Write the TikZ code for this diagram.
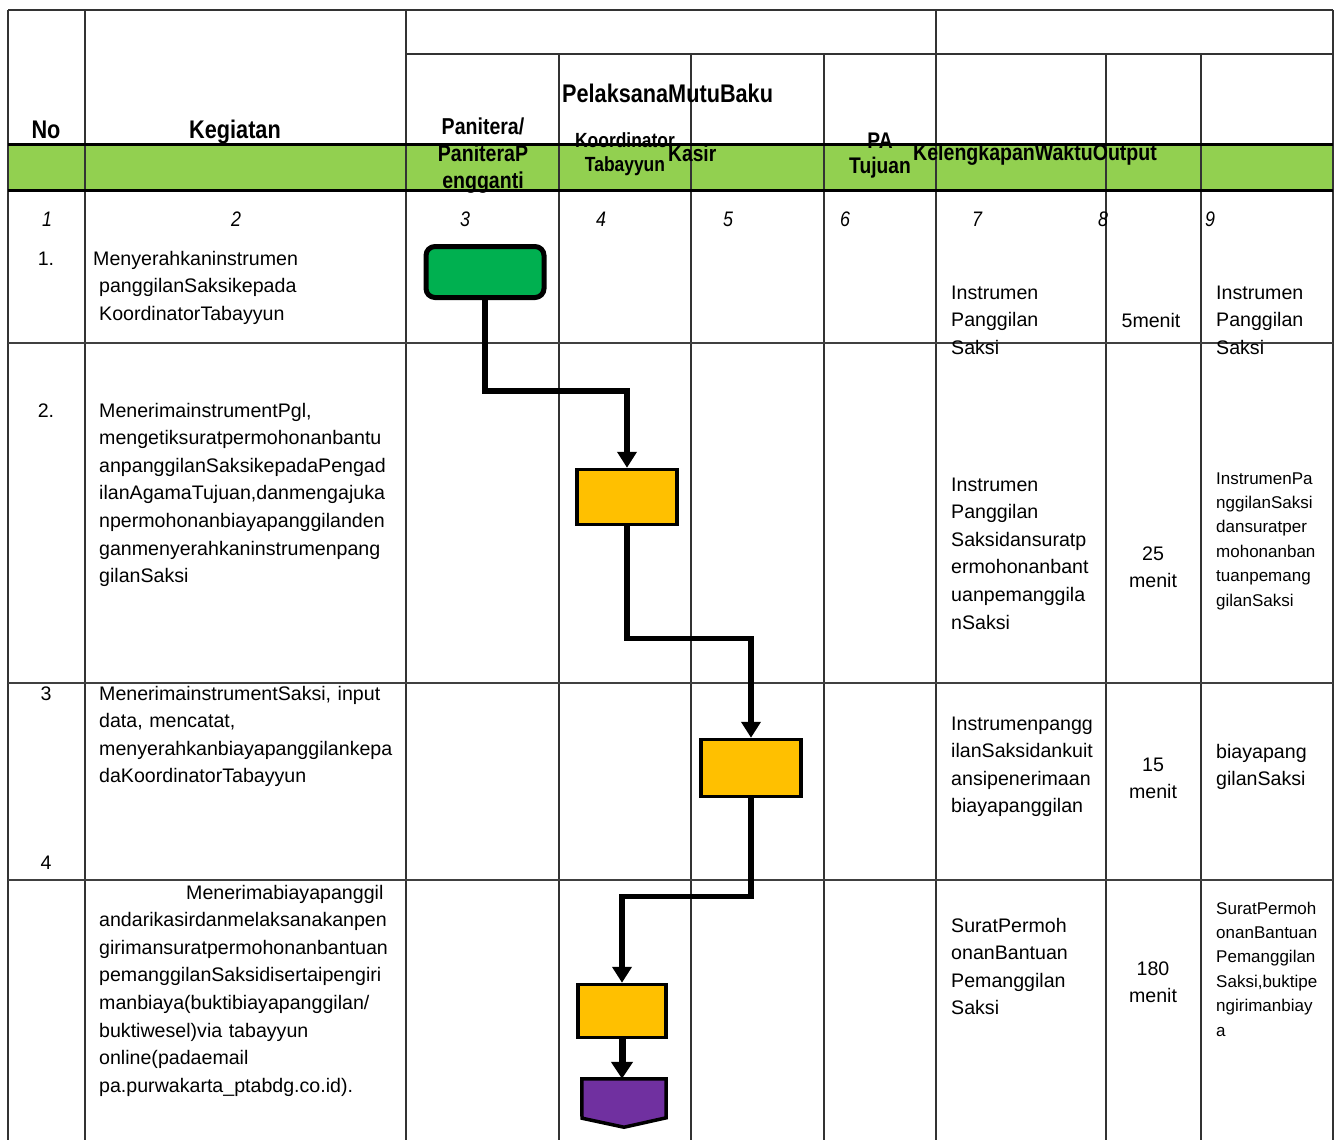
\documentclass[tikz,border=0pt]{standalone}
\usepackage{fontspec}
\setmainfont{Liberation Sans}
\newfontfamily\hdfont[FakeStretch=0.85]{Liberation Sans}
\usetikzlibrary{arrows.meta}
\definecolor{bandgreen}{HTML}{92D050}
\definecolor{startgreen}{HTML}{00B050}
\definecolor{actyellow}{HTML}{FFC000}
\definecolor{endpurple}{HTML}{7030A0}

\begin{document}
\begin{tikzpicture}[x=1pt,y=-1pt,
	grid/.style={black!80,line width=1.3pt},
	rowline/.style={black!75,line width=2pt},
	cell/.style={anchor=base west,align=left,text width=330pt,font=\fontsize{19.6}{27.6}\selectfont},
	smallcell/.style={cell,font=\fontsize{17}{24.4}\selectfont},
	timecell/.style={anchor=base,align=center,text width=90pt,font=\fontsize{19.6}{27.6}\selectfont},
	head/.style={font=\hdfont\bfseries\fontsize{25.5}{27}\selectfont},
	colnum/.style={anchor=base,font=\hdfont\itshape\fontsize{21}{24}\selectfont},
	startbox/.style={draw,line width=5pt,rounded corners=9pt,fill=startgreen,minimum width=118pt,minimum height=51pt},
	actbox/.style={draw,line width=3.5pt,fill=actyellow},
	flow/.style={line width=5.5pt,-{Triangle[width=19pt,length=16pt]}}]
	\tikzstyle{every node}+=[inner sep=0pt]
	\useasboundingbox (0,0) rectangle (1337,1140);
	% header band and table lines
	\fill [bandgreen] (8,144) rectangle (1333,190);
	\foreach \x in {8,85,406,936,1333}
		\draw [grid] (\x,10) -- (\x,1140);
	\foreach \x in {559,691,824,1106,1201}
		\draw [grid] (\x,54) -- (\x,1140);
	\draw [grid] (8,10) -- (1333,10);
	\draw [grid] (406,54) -- (1333,54);
	\draw [black,line width=3pt] (8,144) -- (1333,144);
	\draw [black,line width=3pt] (8,190) -- (1333,190);
	\foreach \y in {343,683,880}
		\draw [rowline] (8,\y) -- (1333,\y);
	% header texts
	\node [head,anchor=base] (hNo) at (46,138) {No};
	\node [head,anchor=base] (hKeg) at (235,138) {Kegiatan};
	\node [head,anchor=base west] (hPel) at (562,102) {PelaksanaMutuBaku};
	\node [head,anchor=base,align=center,font=\hdfont\bfseries\fontsize{23}{27}\selectfont] (hPan) at (483,188) {Panitera/\\PaniteraP\\engganti};
	\node [head,anchor=base,align=center,font=\hdfont\bfseries\fontsize{20.5}{24}\selectfont] (hKoor) at (625,171) {Koordinator\\Tabayyun};
	\node [head,anchor=base west,font=\hdfont\bfseries\fontsize{22.6}{25}\selectfont] (hKasir) at (668,161) {Kasir};
	\node [head,anchor=base,align=center,font=\hdfont\bfseries\fontsize{22.6}{25}\selectfont] (hPA) at (880,173) {PA\\Tujuan};
	\node [head,anchor=base west,font=\hdfont\bfseries\fontsize{23}{25}\selectfont] (hKel) at (913,160) {KelengkapanWaktuOutput};
	\foreach \n/\x in {1/47,2/236,3/465,4/601,5/728,6/845,7/977,8/1103,9/1210}
		\node [colnum] (num\n) at (\x,226) {\n};
	% no column
	\node [timecell,text width=40pt] (no1) at (46,265) {1.};
	\node [timecell,text width=40pt] (no2) at (46,417) {2.};
	\node [timecell,text width=40pt] (no3) at (46,700) {3};
	\node [timecell,text width=40pt] (no4) at (46,869) {4};
	% kegiatan
	\node [cell] (keg1) at (93,265) {Menyerahkaninstrumen\\\hspace*{6pt}panggilanSaksikepada\\\hspace*{6pt}KoordinatorTabayyun};
	\node [cell] (keg2) at (99,417) {MenerimainstrumentPgl,\\mengetiksuratpermohonanbantu\\anpanggilanSaksikepadaPengad\\ilanAgamaTujuan,danmengajuka\\npermohonanbiayapanggilanden\\ganmenyerahkaninstrumenpang\\gilanSaksi};
	\node [cell] (keg3) at (99,700) {MenerimainstrumentSaksi, input\\data, mencatat,\\menyerahkanbiayapanggilankepa\\daKoordinatorTabayyun};
	\node [cell] (keg4) at (99,899) {\hspace*{87pt}Menerimabiayapanggil\\andarikasirdanmelaksanakanpen\\girimansuratpermohonanbantuan\\pemanggilanSaksidisertaipengiri\\manbiaya(buktibiayapanggilan/\\buktiwesel)via tabayyun\\online(padaemail\\pa.purwakarta\_ptabdg.co.id).};
	% kelengkapan
	\node [cell] (kel1) at (951,299) {Instrumen\\Panggilan\\Saksi};
	\node [cell] (kel2) at (951,491) {Instrumen\\Panggilan\\Saksidansuratp\\ermohonanbant\\uanpemanggila\\nSaksi};
	\node [cell] (kel3) at (951,730) {Instrumenpangg\\ilanSaksidankuit\\ansipenerimaan\\biayapanggilan};
	\node [cell] (kel4) at (951,932) {SuratPermoh\\onanBantuan\\Pemanggilan\\Saksi};
	% waktu
	\node [timecell] (wkt1) at (1151,327) {5menit};
	\node [timecell] (wkt2) at (1153,560) {25\\menit};
	\node [timecell] (wkt3) at (1153,771) {15\\menit};
	\node [timecell] (wkt4) at (1153,975) {180\\menit};
	% output
	\node [cell] (out1) at (1216,299) {Instrumen\\Panggilan\\Saksi};
	\node [smallcell] (out2) at (1216,484) {InstrumenPa\\nggilanSaksi\\dansuratper\\mohonanban\\tuanpemang\\gilanSaksi};
	\node [cell] (out3) at (1216,758) {biayapang\\gilanSaksi};
	\node [smallcell] (out4) at (1216,914) {SuratPermoh\\onanBantuan\\Pemanggilan\\Saksi,buktipe\\ngirimanbiay\\a};
	% flow shapes
	\node [startbox] (start) at (485,272) {};
	\node [actbox,minimum width=100pt,minimum height=55pt] (act1) at (627,497) {};
	\node [actbox,minimum width=100pt,minimum height=57pt] (act2) at (751,768) {};
	\node [actbox,minimum width=88pt,minimum height=53pt] (act3) at (622,1011) {};
	\node [minimum width=84pt,minimum height=48pt] (endp) at (624,1103) {};
	\draw [black,line width=3.5pt,fill=endpurple] (endp.north west) -- (endp.north east) -- ++(0,39) -- (endp.south) -- ++(-42,-9) -- cycle;
	\draw [flow] (start.south) -- ++(0,91) -| (act1.north);
	\draw [flow] (act1.south) -- ++(0,112) -| (act2.north);
	\draw [flow] (act2.south) -- ++(0,98) -| (act3.north);
	\draw [flow,line width=7pt,-{Triangle[width=21pt,length=17pt]}] (act3.south) -- (act3.south |- endp.north);
\end{tikzpicture}
\end{document}
